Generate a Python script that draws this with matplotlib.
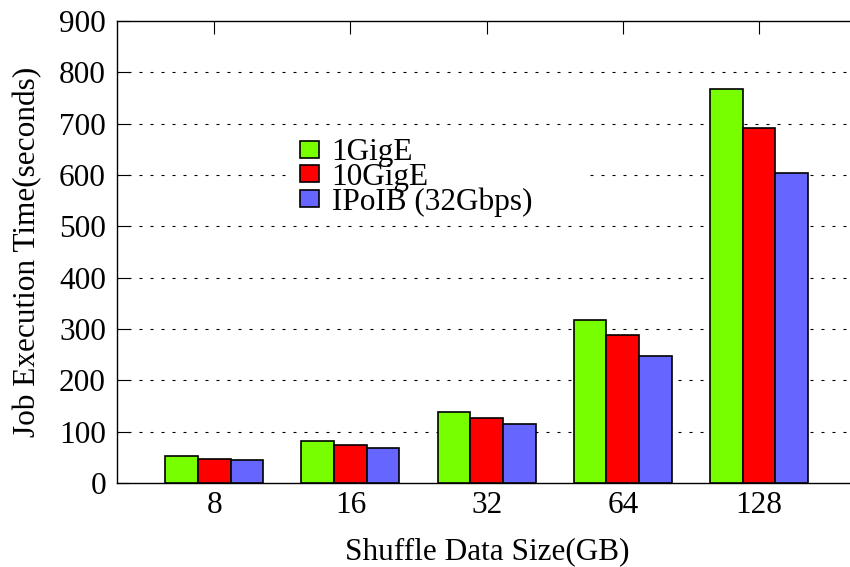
import numpy as np
import matplotlib
matplotlib.use("Agg")
from matplotlib import pyplot as plt
from matplotlib.patches import Rectangle

# job time per shuffle size, one list per network
sizes = ["8", "16", "32", "64", "128"]
gige_1 = [53, 82, 138, 317, 768]
gige_10 = [47, 74, 126, 288, 692]
ipoib = [44, 68, 114, 248, 603]
series = [("1GigE", gige_1, "#77ff00"),
          ("10GigE", gige_10, "#ff0000"),
          ("IPoIB (32Gbps)", ipoib, "#6666ff")]
y_ticks = list(range(0, 901, 100))

plt.rcParams["font.family"] = ["Liberation Serif", "DejaVu Serif"]
plt.rcParams["font.size"] = 22.5

fig = plt.figure(figsize=(8.5, 5.67), dpi=100)
# gnuplot-like layout: right border runs just past the image edge
W, H = 850.0, 567.0
ax = fig.add_axes([117 / W, 1 - 483 / H, 740 / W, 462 / H])

x = np.arange(len(sizes))
width = 0.24
for i, (name, vals, col) in enumerate(series):
    ax.bar(x + (i - 1) * width, vals, width, color=col, edgecolor="black",
           linewidth=1.2, label=name, zorder=3)

ax.set_xlim(-0.714, 4.72)
ax.set_ylim(0, 900)
ax.set_xticks(x)
ax.set_xticklabels(sizes)
ax.set_yticks(y_ticks)

# dotted horizontal grid, hidden behind the bars
for yv in y_ticks[1:-1]:
    ax.axhline(yv, color="black", lw=0.8, linestyle=(0, (2.7, 7.2)), zorder=1)

ax.tick_params(direction="in", length=9, width=0.8, top=True, right=False)
ax.tick_params(axis="x", pad=6)
ax.tick_params(axis="y", pad=8)
for s in ax.spines.values():
    s.set_linewidth(1.0)

ax.set_xlabel("Shuffle Data Size(GB)", labelpad=12)
ax.set_ylabel("Job Execution Time(seconds)", labelpad=12)

# white area behind the key blanks out the grid
ax.add_patch(Rectangle((0.234, 0.565), 0.402, 0.195, transform=ax.transAxes,
                       facecolor="white", edgecolor="none", zorder=2))
ax.legend(loc="upper left", bbox_to_anchor=(0.2346, 0.766), frameon=False,
          handlelength=0.61, handleheight=0.48, handletextpad=0.4,
          labelspacing=-0.15, borderaxespad=0, borderpad=0.3, fontsize=22.5)

fig.savefig("out.png", dpi=100)
